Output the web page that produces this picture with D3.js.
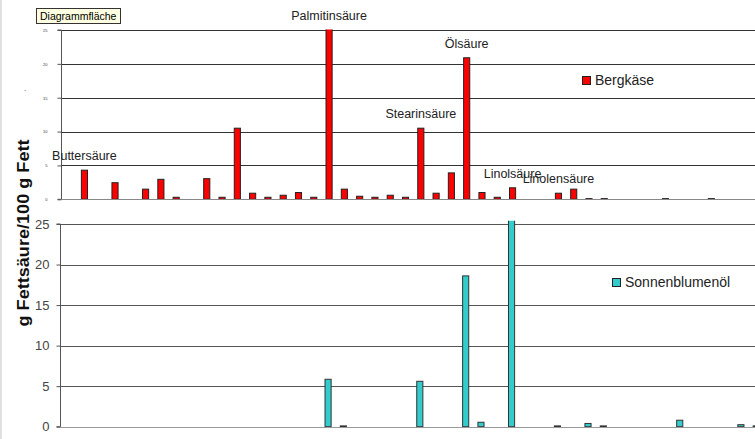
<!DOCTYPE html>
<html><head><meta charset="utf-8">
<script src="https://cdn.jsdelivr.net/npm/d3@7"></script>
<style>
html,body{margin:0;padding:0;background:#fff;overflow:hidden}
svg{display:block;font-family:"Liberation Sans",Arial,sans-serif}
</style></head><body>
<svg id="chart" width="755" height="439"></svg>
<script>
// category slots (fatty acids in analysis order); index 0 is an empty leading slot
const categories = d3.range(48).map(i => "FS" + (i + 1));
// data labels shown above selected bars (category index -> name)
const labelIndex = [1, 17, 23, 26, 29, 32];
const labelNames = ["Buttersäure", "Palmitinsäure", "Stearinsäure", "Ölsäure", "Linolsäure", "Linolensäure"];
// Bergkäse series (g fatty acid / 100 g fat), sparse: index -> value
const bergIdx = [1, 3, 5, 6, 7, 9, 10, 11, 12, 13, 14, 15, 16, 17, 18, 19, 20, 21, 22, 23, 24, 25, 26, 27, 28, 29, 32, 33, 34, 35, 39, 42];
const bergVal = [4.3, 2.45, 1.5, 2.95, 0.3, 3.05, 0.3, 10.5, 0.9, 0.3, 0.6, 1.0, 0.3, 26.5, 1.5, 0.45, 0.3, 0.6, 0.3, 10.5, 0.9, 3.9, 20.9, 1.0, 0.3, 1.7, 0.9, 1.5, 0.1, 0.1, 0.1, 0.1];
// Sonnenblumenöl series
const sonnIdx = [17, 18, 23, 26, 27, 29, 32, 34, 35, 40, 44, 45];
const sonnVal = [5.85, 0.1, 5.6, 18.6, 0.55, 65, 0.1, 0.4, 0.1, 0.8, 0.25, 0.1];
const yTicks = [0, 5, 10, 15, 20, 25];
const seriesNames = ["Bergkäse", "Sonnenblumenöl"];
const yTitle = "g Fettsäure/100 g Fett";

const svg = d3.select("#chart");
const step = 15.29;

// left border line of the window
svg.append("line").attr("x1", 1).attr("x2", 1).attr("y1", 0).attr("y2", 439)
  .attr("stroke", "#d6d6d6").attr("stroke-width", 1.5);

function panel(opt) {
  const g = svg.append("g");
  const x = d3.scaleBand().domain(categories)
    .range([opt.left, opt.left + categories.length * step])
    .paddingInner(0.6).paddingOuter(0.3);
  const y = d3.scaleLinear().domain([0, 25]).range([opt.bottom, opt.top]);
  const clipId = "clip" + opt.id;
  svg.append("clipPath").attr("id", clipId).append("rect")
    .attr("x", opt.left).attr("y", opt.clipTop).attr("width", 755 - opt.left).attr("height", opt.bottom - opt.clipTop + 1);

  // gridlines
  g.selectAll(".grid").data(yTicks.filter(t => t > 0)).join("line")
    .attr("x1", opt.left).attr("x2", 755)
    .attr("y1", d => Math.round(y(d)) + 0.5).attr("y2", d => Math.round(y(d)) + 0.5)
    .attr("stroke", opt.gridColor).attr("stroke-width", 1);

  // y axis
  const axis = d3.axisLeft(y).tickValues(yTicks).tickSize(opt.tickSize).tickPadding(opt.tickPad);
  const ag = g.append("g").attr("transform", `translate(${opt.left + 0.5},0)`).call(axis);
  ag.select(".domain").attr("stroke", "#555").attr("d", `M${-opt.tickSize},${opt.top}H0V${opt.bottom}H${-opt.tickSize}`);
  ag.selectAll(".tick line").attr("stroke", "#555");
  ag.selectAll(".tick text").attr("font-size", opt.tickFont).attr("fill", opt.tickColor)
    .attr("font-family", '"Liberation Sans",Arial,sans-serif');

  // bars
  const data = opt.idx.map((k, i) => ({ cat: categories[k], v: opt.vals[i] }));
  g.append("g").attr("clip-path", `url(#${clipId})`)
    .selectAll("rect").data(data).join("rect")
    .attr("x", d => x(d.cat) + 0.5)
    .attr("width", x.bandwidth())
    .attr("y", d => y(d.v))
    .attr("height", d => y(0) - y(d.v))
    .attr("fill", opt.color).attr("stroke", opt.stroke).attr("stroke-width", 1);

  // baseline
  g.append("line").attr("x1", opt.left).attr("x2", 755)
    .attr("y1", Math.round(y(0)) + 0.5).attr("y2", Math.round(y(0)) + 0.5)
    .attr("stroke", opt.baseColor).attr("stroke-width", 1.2);

  // legend
  const lg = g.append("g").attr("transform", `translate(${opt.legX},${opt.legY})`);
  lg.append("rect").attr("x", 0.5).attr("y", 0.5).attr("width", 8).attr("height", 8)
    .attr("fill", opt.color).attr("stroke", "#222");
  lg.append("text").attr("x", 13).attr("y", 8.5).attr("font-size", 14).attr("fill", "#222").text(opt.name);
  return { x, y, g, data };
}

const topPanel = panel({ id: 1, left: 61, top: 30, bottom: 199.3, clipTop: 29.5, idx: bergIdx, vals: bergVal,
  color: "#ff0000", stroke: "#222", gridColor: "#333", baseColor: "#888",
  tickSize: 4, tickPad: 10, tickFont: 4, tickColor: "#333",
  legX: 582, legY: 76, name: seriesNames[0] });

const botPanel = panel({ id: 2, left: 60, top: 224, bottom: 426.7, clipTop: 220.7, idx: sonnIdx, vals: sonnVal,
  color: "#33cccc", stroke: "#333", gridColor: "#555", baseColor: "#999",
  tickSize: 4, tickPad: 7, tickFont: 13, tickColor: "#444",
  legX: 612, legY: 278, name: seriesNames[1] });

// data labels above Bergkäse bars
const lblData = labelIndex.map((k, i) => {
  const j = bergIdx.indexOf(k);
  return { cat: categories[k], v: Math.min(bergVal[j], 25), name: labelNames[i] };
});
topPanel.g.append("g").selectAll("text").data(lblData).join("text")
  .attr("x", d => topPanel.x(d.cat) + topPanel.x.bandwidth() / 2 + 0.5)
  .attr("y", d => topPanel.y(d.v) - 10)
  .attr("text-anchor", "middle").attr("font-size", 12.5).attr("fill", "#222")
  .text(d => d.name);

// y-axis title
svg.append("text").attr("transform", "translate(29,233) rotate(-90)")
  .attr("text-anchor", "middle").attr("font-size", 17).attr("font-weight", "bold")
  .attr("textLength", 187).attr("lengthAdjust", "spacingAndGlyphs")
  .attr("fill", "#111").text(yTitle);

// tiny leftover mark
svg.append("text").attr("x", 24).attr("y", 91).attr("font-size", 8).attr("fill", "#333").text(".");

// "Diagrammfläche" tooltip
const tip = svg.append("g");
tip.append("rect").attr("x", 36.5).attr("y", 8.5).attr("width", 84).attr("height", 15)
  .attr("fill", "#ffffe1").attr("stroke", "#333");
tip.append("text").attr("x", 40).attr("y", 20).attr("font-size", 10.5).attr("fill", "#000").text("Diagrammfläche");
</script>
</body></html>
